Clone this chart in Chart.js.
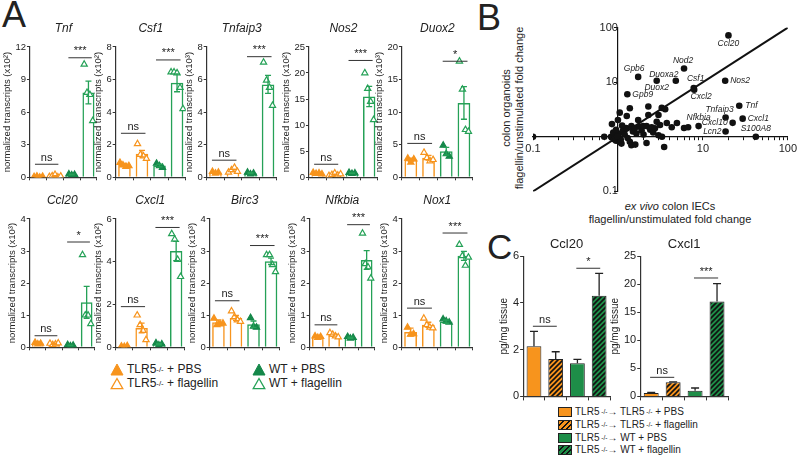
<!DOCTYPE html>
<html>
<head>
<meta charset="utf-8">
<script src="https://cdn.jsdelivr.net/npm/chart.js@4.4.1/dist/chart.umd.min.js"></script>
<style>
  body { margin: 0; width: 800px; height: 457px; position: relative; overflow: hidden; background: #fff;
         font-family: 'Liberation Sans', Arial, sans-serif; color: #222; }
  .box { position: absolute; }
  .panel { position: absolute; font-size: 36px; line-height: 36px; }
  .leg { position: absolute; font-size: 12px; line-height: 13px; display: flex; align-items: center; white-space: nowrap; }
  .leg svg { margin-right: 3px; }
  .legc { position: absolute; font-size: 10px; line-height: 12px; display: flex; align-items: center; white-space: nowrap; }
  .sw { display: inline-block; width: 12px; height: 8px; border: 1px solid #222; margin-right: 3px; }
  sup { font-size: 65%; line-height: 0; }
  .btitle { position: absolute; font-size: 11px; line-height: 13px; text-align: center; }
</style>
</head>
<body>
<div class="panel" style="left:2px;top:-3px">A</div>
<div class="panel" style="left:477px;top:0px">B</div>
<div class="panel" style="left:487px;top:229px;font-size:35px">C</div>

<div class="leg" style="left:110px;top:363px"><svg width="14" height="13"><polygon points="7,1 13,12 1,12" fill="#f7941d" stroke="#f7941d" stroke-width="1"/></svg>TLR5<sup>-/-</sup>&nbsp;+ PBS</div>
<div class="leg" style="left:110px;top:377px"><svg width="14" height="13"><polygon points="7,1.5 12.8,11.7 1.2,11.7" fill="#fff" stroke="#f7941d" stroke-width="1.3"/></svg>TLR5<sup>-/-</sup>&nbsp;+ flagellin</div>
<div class="leg" style="left:252px;top:363px"><svg width="14" height="13"><polygon points="7,1 13,12 1,12" fill="#15884a" stroke="#15884a" stroke-width="1"/></svg>WT + PBS</div>
<div class="leg" style="left:252px;top:377px"><svg width="14" height="13"><polygon points="7,1.5 12.8,11.7 1.2,11.7" fill="#fff" stroke="#25a157" stroke-width="1.3"/></svg>WT + flagellin</div>

<div class="legc" style="left:558px;top:406px"><span class="sw" style="background:#f7941d"></span>TLR5<sup>&nbsp;-/-</sup>&#8594; TLR5<sup>&nbsp;-/-</sup>&nbsp;+ PBS</div>
<div class="legc" style="left:558px;top:419px"><span class="sw" style="background:repeating-linear-gradient(135deg,#f7941d 0 2.5px,#111 2.5px 4px)"></span>TLR5<sup>&nbsp;-/-</sup>&#8594; TLR5<sup>&nbsp;-/-</sup>&nbsp;+ flagellin</div>
<div class="legc" style="left:558px;top:432px"><span class="sw" style="background:#1e8e48"></span>TLR5<sup>&nbsp;-/-</sup>&#8594; WT + PBS</div>
<div class="legc" style="left:558px;top:444px"><span class="sw" style="background:repeating-linear-gradient(135deg,#1e8e48 0 2.5px,#111 2.5px 4px)"></span>TLR5<sup>&nbsp;-/-</sup>&#8594; WT + flagellin</div>

<div class="btitle" style="left:570px;top:200px;width:200px"><i>ex vivo</i> colon IECs<br>flagellin/unstimulated fold change</div>
<div class="btitle" style="left:413px;top:95px;width:200px;transform:rotate(-90deg)">colon organoids<br>flagellin/unstimulated fold change</div>

<script>
// ---------- panel A : qPCR, 4 groups per gene ----------
const groupsA = ['TLR5-/- + PBS', 'TLR5-/- + flagellin', 'WT + PBS', 'WT + flagellin'];
const genesA = ['Tnf', 'Csf1', 'Tnfaip3', 'Nos2', 'Duox2', 'Ccl20', 'Cxcl1', 'Birc3', 'Nfkbia', 'Nox1'];
const unitsA = ['²', '²', '³', '²', '³', '³', '²', '³', '³', '³'];
const yMaxA = [12, 8, 8, 25, 20, 4, 6, 4, 4, 4];
const yStepA = [3, 2, 2, 5, 5, 1, 2, 1, 1, 1];
const meanA = [
  [0.06, 0.1, 0.25, 7.8],
  [0.75, 1.45, 0.72, 5.8],
  [0.3, 0.42, 0.25, 5.7],
  [0.75, 0.5, 0.8, 15.5],
  [2.7, 3.0, 4.0, 11.4],
  [0.13, 0.11, 0.06, 1.4],
  [0.05, 0.9, 0.15, 4.5],
  [0.78, 0.91, 0.72, 2.68],
  [0.33, 0.38, 0.3, 2.72],
  [0.48, 0.7, 0.8, 2.85]
];
const semA = [
  [0.03, 0.05, 0.03, 1.05],
  [0.1, 0.2, 0.08, 0.55],
  [0.03, 0.07, 0.03, 0.55],
  [0.07, 0.1, 0.06, 1.95],
  [0.25, 0.35, 0.6, 2.5],
  [0.02, 0.02, 0.01, 0.5],
  [0.01, 0.23, 0.03, 0.45],
  [0.07, 0.08, 0.1, 0.1],
  [0.02, 0.03, 0.02, 0.29],
  [0.12, 0.08, 0.05, 0.14]
];
const pointsA = [
  [[0.05, 0.1, 0.0, 0.08], [0.05, 0.12, 0.25, 0.02, 0.1], [0.3, 0.2, 0.25], [10.4, 7.8, 7.6, 5.2]],
  [[0.9, 0.75, 0.65, 0.7], [2.05, 1.4, 1.3, 1.15], [0.85, 0.7, 0.6], [6.45, 6.45, 6.4, 5.5, 4.2]],
  [[0.35, 0.25, 0.3], [0.3, 0.45, 0.6, 0.35], [0.3, 0.2, 0.25], [7.05, 5.95, 5.5, 4.4]],
  [[0.9, 0.7, 0.8, 0.6], [0.3, 0.5, 0.8, 0.4, 0.6], [0.9, 0.7, 0.8], [20, 17, 14.5, 11]],
  [[2.9, 2.3, 2.8], [3.8, 3.0, 2.5, 2.7], [4.9, 3.6, 3.2], [17.8, 13.5, 7.3, 7.0]],
  [[0.15, 0.1, 0.12], [0.12, 0.08, 0.1, 0.13], [0.08, 0.04, 0.06], [2.88, 1.0, 1.0, 0.73]],
  [[0.05, 0.03, 0.07], [1.5, 1.05, 0.78, 0.35], [0.2, 0.1, 0.15], [5.3, 5.05, 4.1, 3.3]],
  [[0.9, 0.7, 0.72, 0.75], [1.13, 0.95, 0.85, 0.8], [0.92, 0.65, 0.62], [2.88, 2.88, 2.57, 2.35]],
  [[0.35, 0.3, 0.33], [0.45, 0.4, 0.35, 0.32], [0.33, 0.28, 0.3], [3.55, 2.6, 2.5, 2.15]],
  [[0.62, 0.4, 0.42], [0.9, 0.7, 0.62, 0.6], [0.88, 0.82, 0.78], [3.2, 2.85, 2.55, 2.8]]
];
const nsLevelA = [1.2, 2.7, 1.05, 2.5, 5.2, 0.36, 1.9, 1.45, 0.7, 1.22];
const sigLevelA = [11.0, 7.2, 7.4, 22.4, 17.8, 3.28, 5.6, 3.17, 3.82, 3.56];
const sigTextA = ['***', '***', '***', '***', '*', '*', '***', '***', '***', '***'];

// ---------- panel B : fold changes ----------
const bNames = ['Ccl20', 'Nod2', 'Gpb6', 'Duoxa2', 'Duox2', 'Csf1', 'Cxcl2', 'Nos2', 'Gpb9', 'Tnf',
                'Tnfaip3', 'Cxcl1', 'Nfkbia', 'Cxcl10', 'Lcn2', 'S100A8'];
const bNamedX = [20, 6.0, 1.73, 4.8, 2.86, 7.8, 7.9, 18.3, 1.29, 26.8, 18.5, 29.4, 8.9, 22.4, 18.5, 42];
const bNamedY = [72, 17.8, 12.5, 10.6, 10.6, 7.8, 7.3, 10.6, 6.0, 3.7, 2.25, 2.15, 1.57, 1.8, 1.25, 1.0];
const bOtherX = [0.1, 0.69, 0.83, 0.87, 0.9, 0.92, 0.95, 0.97, 1.0, 1.02, 1.05, 0.88, 0.85, 1.0, 1.05, 1.27, 1.38,
                 1.1, 1.15, 1.2, 1.25, 1.3, 1.38, 1.44, 1.44, 1.5, 1.58, 1.65, 1.73, 1.81, 1.9, 1.98, 2.0, 2.17,
                 2.17, 2.28, 2.28, 2.4, 2.49, 2.6, 2.73, 2.86, 3.0, 3.0, 3.13, 3.3, 3.28, 3.6, 3.76, 4.3, 4.95,
                 6.0, 6.7, 1.12, 0.95, 3.5, 1.6, 0.93, 1.08, 0.98];
const bOtherY = [1.0, 1.0, 1.0, 0.95, 0.9, 1.05, 0.85, 1.1, 0.92, 1.15, 0.8, 1.2, 1.71, 2.03, 2.77, 2.4, 3.33,
                 0.75, 1.3, 1.1, 1.45, 0.95, 0.81, 0.7, 1.57, 1.25, 1.43, 1.15, 2.03, 1.53, 1.3, 1.57, 1.1, 1.57,
                 0.77, 3.58, 2.5, 1.35, 1.49, 1.2, 1.43, 1.89, 2.5, 1.07, 1.64, 1.0, 3.38, 3.2, 1.79, 1.5, 1.79,
                 1.45, 1.5, 1.6, 1.35, 0.65, 0.72, 0.97, 0.88, 1.02];
const bDiagonal = [0.1, 100];
const bTickLabels = [0.1, 10, 100];

// ---------- panel C : protein ----------
const groupsC = ['TLR5-/- → TLR5-/- + PBS', 'TLR5-/- → TLR5-/- + flagellin', 'TLR5-/- → WT + PBS', 'TLR5-/- → WT + flagellin'];
const ccl20C = [2.15, 1.6, 1.42, 4.3];
const ccl20ErrC = [0.63, 0.31, 0.16, 0.96];
const cxcl1C = [0.6, 2.5, 1.0, 16.9];
const cxcl1ErrC = [0.1, 0.1, 0.5, 3.2];

// ---------- styles ----------
const ORANGE = '#f7941d', GREEN = '#25a157', GREEN_DARK = '#15884a', GREEN_C = '#1e8e48', AXIS = '#333';
Chart.defaults.font.family = "'Liberation Sans', Arial, sans-serif";
Chart.defaults.color = '#222';

// error bars + significance brackets, drawn through the chart scales
const marks = {
  id: 'marks',
  afterDatasetsDraw(chart, args, o) {
    if (!o.mean) return;
    const ctx = chart.ctx, xs = chart.scales.x, ys = chart.scales.y;
    ctx.save();
    ctx.lineWidth = 1.3;
    o.mean.forEach((m, i) => {
      const x = xs.getPixelForValue(i);
      const top = ys.getPixelForValue(m + o.err[i]);
      const bot = ys.getPixelForValue(o.both ? m - o.err[i] : m);
      ctx.strokeStyle = o.colors[i];
      ctx.beginPath();
      ctx.moveTo(x, top); ctx.lineTo(x, bot);
      ctx.moveTo(x - o.cap, top); ctx.lineTo(x + o.cap, top);
      if (o.both) { ctx.moveTo(x - o.cap, bot); ctx.lineTo(x + o.cap, bot); }
      ctx.stroke();
    });
    ctx.strokeStyle = AXIS; ctx.fillStyle = '#222'; ctx.lineWidth = 1;
    ctx.textAlign = 'center'; ctx.textBaseline = 'bottom';
    ctx.font = "11px 'Liberation Sans', Arial, sans-serif";
    o.brackets.forEach(([a, b, lvl, txt]) => {
      const y = ys.getPixelForValue(lvl);
      const x1 = xs.getPixelForValue(a - o.ext), x2 = xs.getPixelForValue(b + o.ext);
      ctx.beginPath(); ctx.moveTo(x1, y); ctx.lineTo(x2, y); ctx.stroke();
      ctx.fillText(txt, (x1 + x2) / 2, y - 1);
    });
    ctx.restore();
  }
};

// resize the canvas so the plot area lands on the wanted box
function place(chart, div, box) {
  const [l, t, r, b] = box;
  for (let k = 0; k < 2; k++) {
    const a = chart.chartArea;
    chart.resize(Math.round(chart.width + (r - l) - (a.right - a.left)),
                 Math.round(chart.height + (b - t) - (a.bottom - a.top)));
  }
  const a = chart.chartArea;
  div.style.left = (l - a.left) + 'px';
  div.style.top = (t - a.top) + 'px';
}

function newCanvas() {
  const div = document.createElement('div');
  div.className = 'box';
  document.body.appendChild(div);
  const cv = document.createElement('canvas');
  cv.width = 140; cv.height = 200;
  div.appendChild(cv);
  return [div, cv];
}

// x axis shared by A and C: groups at 0..3 on a linear scale
const groupAxis = (tickLen) => ({
  type: 'linear', min: -0.5, max: 3.5, offset: false,
  afterBuildTicks: s => { s.ticks = [0, 1, 2, 3].map(v => ({ value: v })); },
  grid: { drawOnChartArea: false, tickLength: tickLen, color: AXIS },
  border: { color: AXIS, width: 1.2 }, ticks: { display: false }
});

const boxesA = [
  [30, 47, 97, 177], [116, 47, 186, 177], [207, 47, 277, 177], [309, 47, 378, 177], [402, 47, 473, 177],
  [30, 219, 95, 347], [116, 219, 185, 347], [210, 219, 280, 347], [310, 219, 375, 347], [402, 219, 473, 347]
];
const lineColors = [ORANGE, ORANGE, GREEN, GREEN];
const pointColors = [ORANGE, ORANGE, GREEN_DARK, GREEN];
const filled = [true, false, true, false];

genesA.forEach((gene, k) => {
  const [div, cv] = newCanvas();
  const scatter = pointsA[k].map((g, i) => ({
    type: 'scatter', order: 1,
    data: g.map((v, j) => ({ x: i + (j - (g.length - 1) / 2) * 0.17, y: v })),
    pointStyle: 'triangle', pointRadius: 3.6, borderWidth: 1.2,
    borderColor: pointColors[i], backgroundColor: filled[i] ? pointColors[i] : '#fff'
  }));
  const chart = new Chart(cv, {
    type: 'bar',
    data: {
      datasets: [{ type: 'bar', order: 2, label: 'mean', data: meanA[k].map((m, i) => ({ x: i, y: m })),
                   backgroundColor: 'rgba(255,255,255,0)', borderColor: lineColors, borderWidth: 1.5,
                   barPercentage: 0.72, categoryPercentage: 1 }, ...scatter]
    },
    options: {
      responsive: false, maintainAspectRatio: false, animation: false, devicePixelRatio: 1,
      layout: { padding: { left: 2, right: 2, bottom: 2 } },
      plugins: {
        legend: { display: false }, tooltip: { enabled: false },
        title: { display: true, text: gene, fullSize: false, font: { size: 12, style: 'italic', weight: 'normal' },
                 padding: { top: 0, bottom: 11.5 }, color: '#222' },
        marks: { mean: meanA[k], err: semA[k], both: true, colors: lineColors, cap: 3, ext: 0.2,
                 brackets: [[0, 1, nsLevelA[k], 'ns'], [2, 3, sigLevelA[k], sigTextA[k]]] }
      },
      scales: {
        x: groupAxis(3),
        y: { min: 0, max: yMaxA[k], grid: { drawOnChartArea: false, tickLength: 3, color: AXIS },
             border: { color: AXIS, width: 1.2 },
             ticks: { stepSize: yStepA[k], font: { size: 9.5 }, padding: 1, color: '#222' },
             title: { display: true, text: 'normalized transcripts (x10' + unitsA[k] + ')', font: { size: 9.5 },
                      padding: { top: 0, bottom: 1 }, color: '#222' } }
      }
    },
    plugins: [marks]
  });
  place(chart, div, boxesA[k]);
});

// ---------- panel B ----------
(function () {
  const [div, cv] = newCanvas();
  const minorTicks = [];
  [0.1, 1, 10].forEach(d => { for (let m = 1; m < 10; m++) minorTicks.push(+(d * m).toPrecision(2)); });
  minorTicks.push(100);
  const labelPos = {
    Ccl20: [0, 8, 'center'], Nod2: [-1, -8, 'center'], Gpb6: [-4, -8, 'center'], Duoxa2: [-12, -6, 'center'],
    Duox2: [0, 6.5, 'center'], Csf1: [2, -9, 'center'], Cxcl2: [7, 7, 'center'], Nos2: [5, 0, 'left'],
    Gpb9: [5, 0, 'left'], Tnf: [6, 0, 'left'], Tnfaip3: [-6, -8, 'center'], Cxcl1: [5, 0, 'left'],
    Nfkbia: [0, -8.5, 'center'], Cxcl10: [-5, 0, 'right'], Lcn2: [-4, 0, 'right'], S100A8: [0, -8, 'center']
  };
  const names = {
    id: 'names',
    afterDatasetsDraw(chart) {
      const ctx = chart.ctx, xs = chart.scales.x, ys = chart.scales.y;
      ctx.save();
      ctx.font = "italic 8.5px 'Liberation Sans', Arial, sans-serif";
      ctx.fillStyle = '#222'; ctx.textBaseline = 'middle';
      bNames.forEach((n, i) => {
        const [dx, dy, al] = labelPos[n];
        ctx.textAlign = al;
        ctx.fillText(n, xs.getPixelForValue(bNamedX[i]) + dx, ys.getPixelForValue(bNamedY[i]) + dy);
      });
      ctx.restore();
    }
  };
  const logAxis = (ticksList, pos) => ({
    type: 'logarithmic', min: 0.1, max: 100, position: pos,
    afterBuildTicks: s => { s.ticks = ticksList.map(v => ({ value: v })); },
    grid: { drawOnChartArea: false, tickLength: 3, color: '#111' },
    border: { color: '#111', width: 1.2 },
    ticks: { autoSkip: false, maxRotation: 0, padding: 3, font: { size: 11 }, color: '#222',
             callback: v => bTickLabels.includes(v) ? String(v) : '' }
  });
  const chart = new Chart(cv, {
    type: 'scatter',
    data: {
      datasets: [
        { type: 'line', data: bDiagonal.map(v => ({ x: v, y: v })), borderColor: '#111', borderWidth: 2,
          pointRadius: 0, showLine: true, order: 2 },
        { type: 'scatter', data: bNamedX.map((x, i) => ({ x, y: bNamedY[i] }))
            .concat(bOtherX.map((x, i) => ({ x, y: bOtherY[i] }))),
          pointRadius: 3.3, backgroundColor: '#111', borderWidth: 0, order: 1 }
      ]
    },
    options: {
      responsive: false, maintainAspectRatio: false, animation: false, devicePixelRatio: 1,
      layout: { padding: { left: 12, right: 10, top: 6, bottom: 8 } },
      plugins: { legend: { display: false }, tooltip: { enabled: false } },
      scales: { x: logAxis(minorTicks, { y: 1 }), y: logAxis([0.1, 1, 10, 100], { x: 1 }) }
    },
    plugins: [names]
  });
  place(chart, div, [533, 28, 788, 192]);
})();

// ---------- panel C ----------
function hatch(base) {
  const c = document.createElement('canvas');
  c.width = 5; c.height = 5;
  const g = c.getContext('2d');
  g.fillStyle = base; g.fillRect(0, 0, 5, 5);
  g.strokeStyle = '#111'; g.lineWidth = 1.6;
  g.beginPath();
  g.moveTo(-1, 6); g.lineTo(6, -1);
  g.moveTo(-1, 1); g.lineTo(1, -1);
  g.moveTo(4, 6); g.lineTo(6, 4);
  g.stroke();
  return g.createPattern(c, 'repeat');
}

function makeC(title, values, errs, yMax, step, brackets, box) {
  const [div, cv] = newCanvas();
  const chart = new Chart(cv, {
    type: 'bar',
    data: {
      datasets: [{ label: title, data: values.map((v, i) => ({ x: i, y: v })),
                   backgroundColor: [ORANGE, hatch(ORANGE), GREEN_C, hatch(GREEN_C)],
                   borderColor: '#222', borderWidth: 1, barPercentage: 0.68, categoryPercentage: 1 }]
    },
    options: {
      responsive: false, maintainAspectRatio: false, animation: false, devicePixelRatio: 1,
      layout: { padding: { left: 2, right: 2, bottom: 2 } },
      plugins: {
        legend: { display: false }, tooltip: { enabled: false },
        title: { display: true, text: title, fullSize: false, font: { size: 13, weight: 'normal' },
                 padding: { top: 0, bottom: 3.5 }, color: '#222' },
        marks: { mean: values, err: errs, both: false, colors: ['#222', '#222', '#222', '#222'], cap: 4, ext: 0.05,
                 brackets: brackets }
      },
      scales: {
        x: groupAxis(4),
        y: { min: 0, max: yMax, grid: { drawOnChartArea: false, tickLength: 3, color: AXIS },
             border: { color: AXIS, width: 1.2 },
             ticks: { stepSize: step, font: { size: 11 }, padding: 1, color: '#222' },
             title: { display: true, text: 'pg/mg tissue', font: { size: 10 }, padding: { top: 0, bottom: 2 }, color: '#222' } }
      }
    },
    plugins: [marks]
  });
  place(chart, div, box);
}

makeC('Ccl20', ccl20C, ccl20ErrC, 6, 2, [[0, 1, 3.0, 'ns'], [2, 3, 5.48, '*']], [523, 256, 610, 396]);
makeC('Cxcl1', cxcl1C, cxcl1ErrC, 25, 5, [[0, 1, 3.4, 'ns'], [2, 3, 21.1, '***']], [640, 256, 728, 396]);
</script>
</body>
</html>
